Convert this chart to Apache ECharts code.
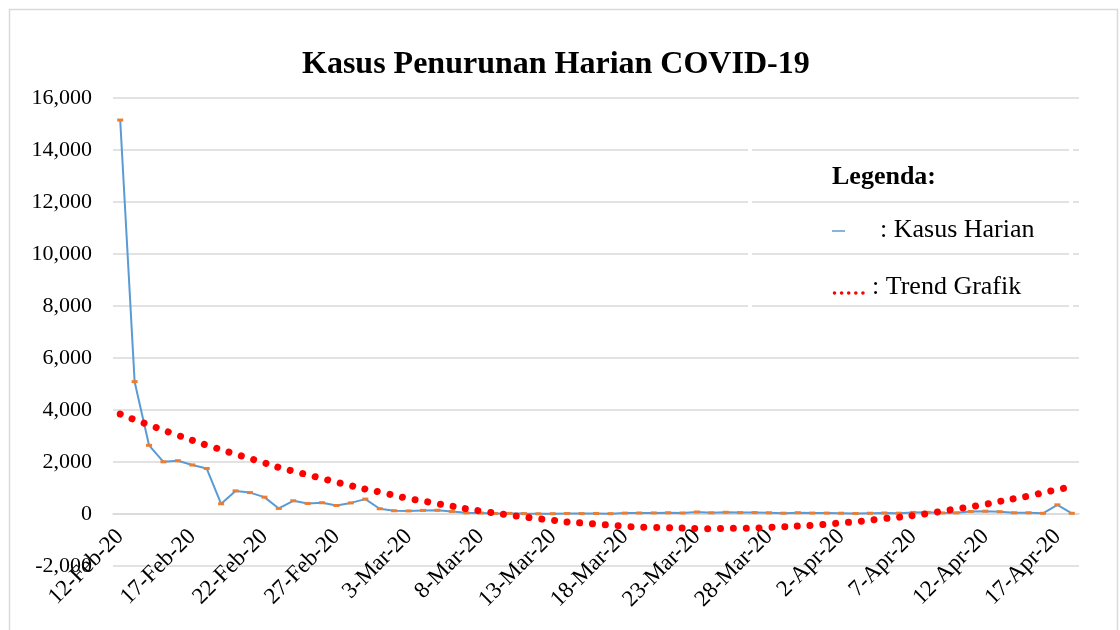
<!DOCTYPE html>
<html>
<head>
<meta charset="utf-8">
<script src="https://cdn.jsdelivr.net/npm/echarts@6/dist/echarts.min.js"></script>
<style>
  html, body { margin: 0; padding: 0; background: #fff; }
  #main { width: 1120px; height: 630px; }
</style>
</head>
<body>
<div id="main"></div>
<script>
var dates = [
    '12-Feb-20', '13-Feb-20', '14-Feb-20', '15-Feb-20', '16-Feb-20', '17-Feb-20', '18-Feb-20', '19-Feb-20', '20-Feb-20',
    '21-Feb-20', '22-Feb-20', '23-Feb-20', '24-Feb-20', '25-Feb-20', '26-Feb-20', '27-Feb-20', '28-Feb-20', '29-Feb-20',
    '1-Mar-20', '2-Mar-20', '3-Mar-20', '4-Mar-20', '5-Mar-20', '6-Mar-20', '7-Mar-20', '8-Mar-20', '9-Mar-20', '10-Mar-20',
    '11-Mar-20', '12-Mar-20', '13-Mar-20', '14-Mar-20', '15-Mar-20', '16-Mar-20', '17-Mar-20', '18-Mar-20', '19-Mar-20',
    '20-Mar-20', '21-Mar-20', '22-Mar-20', '23-Mar-20', '24-Mar-20', '25-Mar-20', '26-Mar-20', '27-Mar-20', '28-Mar-20',
    '29-Mar-20', '30-Mar-20', '31-Mar-20',
    '1-Apr-20', '2-Apr-20', '3-Apr-20', '4-Apr-20', '5-Apr-20', '6-Apr-20', '7-Apr-20', '8-Apr-20', '9-Apr-20', '10-Apr-20',
    '11-Apr-20', '12-Apr-20', '13-Apr-20', '14-Apr-20', '15-Apr-20', '16-Apr-20', '17-Apr-20', '18-Apr-20'
];

// kasus harian
var kasusHarian = [
    15152, 5090, 2641, 2008, 2048, 1886, 1749, 394, 889, 823, 648, 214, 508, 406, 433, 327, 427, 573,
    202, 125, 119, 139, 143, 99, 44, 40, 19, 24, 15, 8, 11, 20, 16, 21, 13, 34, 39, 41, 46, 39, 78, 47,
    67, 55, 54, 45, 31, 48, 36,
    35, 31, 19, 30, 39, 32, 62, 63, 42, 46, 99, 108, 89, 46, 46, 26, 352, 27
];

// garis trend
var trendGrafik = [
    3846, 3623, 3427, 3223, 3027, 2835, 2650, 2477, 2300, 2135, 1965, 1792, 1650, 1508, 1365, 1223, 1088, 958,
    846, 719, 596, 500, 396, 304, 200, 115, 38, -42, -112, -181, -238, -308, -346, -388, -431, -469, -504,
    -515, -531, -542, -558, -565, -554, -550, -542, -515, -492, -462, -435,
    -392, -342, -300, -238, -173, -123, -58, 19, 108, 196, 281, 373, 485, 588, 692, 819, 938, 1046
];

var yTicks = { min: -2000, max: 16000, interval: 2000 };

var serif = 'Liberation Serif, Times New Roman, serif';
var gridColor = '#D9D9D9';

var option = {
    animation: false,
    title: {
        text: 'Kasus Penurunan Harian COVID-19',
        left: 297,
        top: 44,
        textStyle: { fontFamily: serif, fontWeight: 'bold', fontSize: 32, color: '#000' }
    },
    grid: { left: 113, right: 41, top: 98, bottom: 64, containLabel: false, outerBoundsMode: 'none' },
    xAxis: {
        type: 'category',
        data: dates,
        boundaryGap: true,
        axisLine: { lineStyle: { color: gridColor, width: 1.5 } },
        axisTick: { interval: 4, length: 7, lineStyle: { color: gridColor, width: 1.5 } },
        axisLabel: {
            interval: 4,
            rotate: 45,
            margin: -33,
            fontFamily: serif,
            fontSize: 23,
            color: '#000'
        },
        splitLine: { show: false }
    },
    yAxis: {
        type: 'value',
        min: yTicks.min,
        max: yTicks.max,
        interval: yTicks.interval,
        axisLine: { show: false },
        axisTick: { show: false },
        axisLabel: {
            margin: 21,
            fontFamily: serif,
            fontSize: 22,
            color: '#000',
            formatter: function (v) { return v.toLocaleString('en-US'); }
        },
        splitLine: { lineStyle: { color: gridColor, width: 1.5 } }
    },
    series: [
        {
            name: 'Kasus Harian',
            type: 'line',
            data: kasusHarian,
            symbol: 'rect',
            symbolSize: [6, 3],
            itemStyle: { color: '#ED7D31' },
            lineStyle: { color: '#5B9BD5', width: 2 },
            z: 2
        },
        {
            name: 'Trend Grafik',
            type: 'line',
            data: trendGrafik,
            smooth: true,
            symbol: 'none',
            lineStyle: { color: '#FF0000', width: 7, type: [0.01, 12.8], cap: 'round' },
            z: 3
        }
    ],
    graphic: [
        {
            type: 'rect',
            shape: { x: 9.5, y: 9.5, width: 1108, height: 640 },
            style: { fill: 'none', stroke: gridColor, lineWidth: 1.5 },
            silent: true
        },
        {
            type: 'rect',
            shape: { x: 750, y: 142, width: 321, height: 172 },
            style: { fill: 'none', stroke: '#fff', lineWidth: 4 },
            z: 10,
            silent: true
        },
        {
            type: 'text',
            x: 832, y: 177,
            style: { text: 'Legenda:', font: 'bold 26px ' + serif, fill: '#000', textAlign: 'left', textVerticalAlign: 'middle' },
            z: 11
        },
        {
            type: 'line',
            shape: { x1: 832, y1: 231, x2: 845, y2: 231 },
            style: { stroke: '#5B9BD5', lineWidth: 1.5 },
            z: 11
        },
        {
            type: 'text',
            x: 880, y: 230,
            style: { text: ': Kasus Harian', font: '26px ' + serif, fill: '#000', textAlign: 'left', textVerticalAlign: 'middle' },
            z: 11
        },
        {
            type: 'line',
            shape: { x1: 834.5, y1: 293, x2: 863, y2: 293 },
            style: { stroke: '#FF0000', lineWidth: 3.6, lineDash: [0.01, 7.1], lineCap: 'round' },
            z: 11
        },
        {
            type: 'text',
            x: 872, y: 287,
            style: { text: ': Trend Grafik', font: '26px ' + serif, fill: '#000', textAlign: 'left', textVerticalAlign: 'middle' },
            z: 11
        }
    ]
};

var chartDom = document.getElementById('main');
var myChart = echarts.init(chartDom);
myChart.setOption(option);
</script>
</body>
</html>
